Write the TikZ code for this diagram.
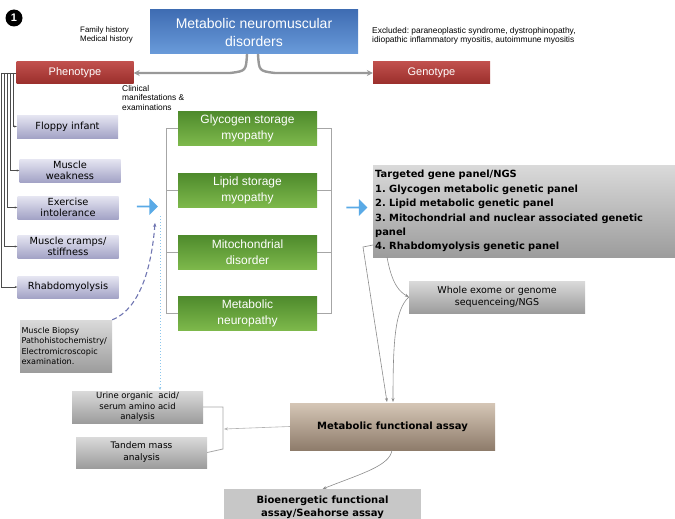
\documentclass[tikz,border=0pt]{standalone}
\usepackage{fontspec}
\setmainfont{Liberation Sans}
\newfontfamily\tahoma{DejaVu Sans}
\usetikzlibrary{arrows.meta,shapes.arrows}
\frenchspacing

\definecolor{bluetop}{HTML}{3F6DB3}
\definecolor{bluebot}{HTML}{6A9BDA}
\definecolor{redtop}{HTML}{C0504D}
\definecolor{redbot}{HTML}{9A2E2B}
\definecolor{lavtop}{HTML}{E6E6F2}
\definecolor{lavbot}{HTML}{A3A3C6}
\definecolor{greentop}{HTML}{4E8A2C}
\definecolor{greenbot}{HTML}{7DB84B}
\definecolor{greytop}{HTML}{DADADA}
\definecolor{greybot}{HTML}{9C9C9C}
\definecolor{browntop}{HTML}{D5C6B6}
\definecolor{brownbot}{HTML}{8E7C6B}
\definecolor{arrowblue}{HTML}{5AAAE6}
\definecolor{dashblue}{HTML}{7076B2}
\definecolor{dotblue}{HTML}{8CC6EC}
\definecolor{linegrey}{HTML}{8C8C8C}

\tikzset{
  box/.style={inner sep=1pt, align=center},
  titlebox/.style={box, top color=bluetop, bottom color=bluebot, text=white,
    minimum width=208pt, minimum height=44pt, font=\fontsize{14}{18}\selectfont},
  redbox/.style={box, top color=redtop, bottom color=redbot, text=white,
    minimum width=117pt, minimum height=22pt, font=\fontsize{11}{12}\selectfont},
  lavbox/.style={box, top color=lavtop, bottom color=lavbot,
    minimum width=101pt, minimum height=23pt, font=\tahoma\fontsize{9.8}{11.5}\selectfont},
  greenbox/.style={box, top color=greentop, bottom color=greenbot, text=white,
    minimum width=139pt, minimum height=34pt, font=\fontsize{12}{16}\selectfont},
  greybox/.style={box, top color=greytop, bottom color=greybot,
    font=\tahoma\fontsize{8.5}{10.5}\selectfont},
  note/.style={inner sep=0pt, align=left, font=\fontsize{8.4}{9.6}\selectfont},
  fatarrow/.style={single arrow, fill=arrowblue, minimum height=21pt,
    minimum width=17pt, single arrow head extend=2pt, inner sep=0pt},
  conn/.style={linegrey, line width=0.6pt, -{Stealth[length=4pt,width=3pt]}},
  branch/.style={black!70, line width=0.5pt, -{Stealth[length=2.5pt,width=2pt]}},
  bracket/.style={black!35, line width=0.9pt}
}

\begin{document}
\begin{tikzpicture}[x=1pt, y=-1pt]
\useasboundingbox (0,0) rectangle (675,519);

% top row
\node[circle, fill=black, text=white, inner sep=0pt, minimum size=17pt,
  font=\bfseries\fontsize{11}{11}\selectfont] (num) at (14,18) {1};
\node[titlebox] (title) at (254,32) {Metabolic neuromuscular\\disorders};
\node[note, anchor=west, font=\fontsize{7.9}{9.4}\selectfont] (famhist) at (80,35)
  {Family history\\Medical history};
\node[note, anchor=west] (excl) at (372,36) {Excluded: paraneoplastic syndrome, dystrophinopathy,\\idiopathic inflammatory myositis, autoimmune myositis};
\node[redbox] (pheno) at (75,73) {Phenotype};
\node[redbox] (geno) at (431.5,73) {Genotype};
\node[note, anchor=north west] (clin) at (122,85) {Clinical\\manifestations \&\\examinations};

\draw[black!40, line width=2.4pt, -{Stealth[length=6pt,width=6pt]}]
  (247,54) .. controls (246,71) .. (230,73) -- (pheno.east);
\draw[black!40, line width=2.4pt, -{Stealth[length=6pt,width=6pt]}]
  (258,54) .. controls (259,71) .. (275,73) -- (geno.west);

% phenotype column
\node[lavbox] (floppy) at (67.5,126.5) {Floppy infant};
\node[lavbox] (weak) at (70,170.5) {Muscle\\weakness};
\node[lavbox] (exer) at (68,207.5) {Exercise\\intolerance};
\node[lavbox] (cramp) at (68,246.5) {Muscle cramps/\\stiffness};
\node[lavbox, minimum height=22pt] (rhabdo) at (68,287) {Rhabdomyolysis};

\draw[black!70, line width=0.5pt] (pheno.west) -- (1,73);
\foreach \b/\x in {floppy/13, weak/10, exer/7, cramp/4, rhabdo/1}
  \draw[branch] (\x,73) |- (\b.west);

\node[greybox, align=left, minimum width=92pt, minimum height=52pt,
  text width=89pt, font=\tahoma\fontsize{8.1}{10.2}\selectfont] (biopsy) at (66,346)
  {Muscle Biopsy\\Pathohistochemistry/\\Electromicroscopic\\examination.};

\node[fatarrow] (fatL) at (147,206.5) {};
\draw[dashblue, line width=1.1pt, dash pattern=on 5pt off 3pt,
  -{Stealth[length=4pt,width=3.5pt]}]
  (biopsy.north east) .. controls (142,308) and (152,262) .. (155,223);

% myopathy groups
\node[greenbox] (glyco) at (247.5,128) {Glycogen storage\\myopathy};
\node[greenbox] (lipid) at (247.5,190) {Lipid storage\\myopathy};
\node[greenbox] (mito) at (247.5,252) {Mitochondrial\\disorder};
\node[greenbox] (neuro) at (247.5,313) {Metabolic\\neuropathy};

\draw[bracket] (glyco.west) -| (166,313) -- (neuro.west);
\draw[bracket] (166,190) -- (lipid.west);
\draw[bracket] (166,252) -- (mito.west);
\draw[bracket] (glyco.east) -| (331,313) -- (neuro.east);
\draw[bracket] (331,190) -- (lipid.east);
\draw[bracket] (331,252) -- (mito.east);

% genetic testing
\node[fatarrow] (fatR) at (356.5,207.5) {};
\node[greybox, align=left, anchor=north west, minimum width=302pt, minimum height=92pt,
  text width=298pt, inner sep=2pt, font=\tahoma\bfseries\fontsize{9.9}{14.4}\selectfont]
  (panel) at (373,165)
  {Targeted gene panel/NGS\\1. Glycogen metabolic genetic panel\\2. Lipid metabolic genetic panel\\3. Mitochondrial and nuclear associated genetic\\panel\\4. Rhabdomyolysis genetic panel};
\node[greybox, minimum width=176pt, minimum height=32pt,
  font=\tahoma\fontsize{9.5}{12}\selectfont] (exome) at (497,297)
  {Whole exome or genome\\sequenceing/NGS};

% functional assays
\node[box, top color=browntop, bottom color=brownbot, minimum width=205pt,
  minimum height=47pt, font=\tahoma\bfseries\fontsize{10}{12}\selectfont]
  (mfa) at (392.5,426.5) {Metabolic functional assay};
\node[greybox, minimum width=131pt, minimum height=32pt] (urine) at (137.5,407)
  {Urine organic\ \ acid/\\serum amino acid\\analysis};
\node[greybox, minimum width=131pt, minimum height=31pt,
  font=\tahoma\fontsize{9}{12}\selectfont] (tandem) at (141.5,452.5) {Tandem mass\\analysis};
\node[box, fill=black!22, anchor=north, minimum width=197pt, minimum height=36pt,
  font=\tahoma\bfseries\fontsize{10}{12.5}\selectfont] (bioe) at (322.5,489)
  {Bioenergetic functional\\assay/Seahorse assay};

\draw[dotblue, line width=1pt, dotted, -{Stealth[length=3pt,width=2.5pt]}]
  (160,216) -- (160,390);

\draw[conn] (373,245) -- (363,247) -- (387,402);
\draw[conn] (387,257) .. controls (392,285) and (400,292) .. (exome.west);
\draw[conn] (exome.west) .. controls (395,310) and (393,340) .. (393,402);

\draw[bracket, line width=0.8pt] (urine.east) -| (223,449) -- (tandem.east);
\draw[conn, black!30] (mfa.west) -- (224,429);
\draw[conn] (392,450) .. controls (390,466) and (360,474) .. (bioe.north);
\end{tikzpicture}
\end{document}
